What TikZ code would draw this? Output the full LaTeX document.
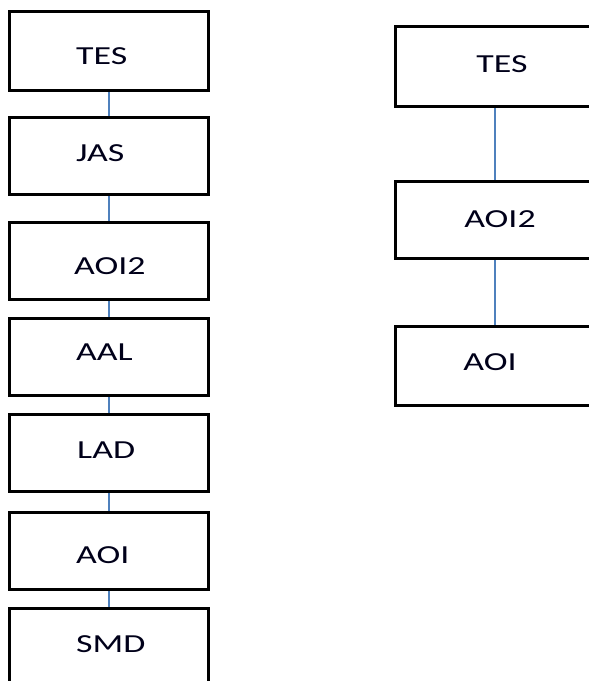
\documentclass[tikz,border=0pt]{standalone}
\usepackage{fontspec}
\usepackage{graphicx}
\setmainfont{Carlito}
\definecolor{linkblue}{RGB}{79,129,189}
\tikzset{
  box/.style={draw=black, line width=3pt, rectangle, inner sep=0pt,
    minimum width=199.5pt},
  link/.style={draw=linkblue, line width=1.4pt},
  lbl/.style={inner sep=0pt, font=\fontsize{26}{30}\selectfont, text=black!90!blue}
}
\newcommand{\wide}[1]{\scalebox{1.38}[1]{#1}}
\begin{document}
\begin{tikzpicture}[x=1pt,y=-1pt]
\useasboundingbox (0,0) rectangle (589,681);
% left chain of stages
\node[box, minimum height=79pt] (l1) at (109,51) {};
\node[box, minimum height=77pt] (l2) at (109,156) {};
\node[box, minimum height=77pt] (l3) at (109,261) {};
\node[box, minimum height=77pt] (l4) at (109,357) {};
\node[box, minimum height=77pt] (l5) at (109,453) {};
\node[box, minimum height=77pt] (l6) at (109,551) {};
\node[box, minimum height=91.5pt] (l7) at (109,654.25) {};
\node[lbl, anchor=base west] (la) at (76,64.3) {\wide{TES}};
\node[lbl, anchor=base west] (lb) at (76,161) {\wide{JAS}};
\node[lbl, anchor=base west] (lc) at (74,274) {\wide{AOI2}};
\node[lbl, anchor=base west] (ld) at (76,360.7) {\wide{AAL}};
\node[lbl, anchor=base west] (le) at (77,458) {\wide{LAD}};
\node[lbl, anchor=base west] (lf) at (76,563) {\wide{AOI}};
\node[lbl, anchor=base west] (lg) at (76,652) {\wide{SMD}};
\foreach \a/\b in {l1/l2, l2/l3, l3/l4, l4/l5, l5/l6, l6/l7}
  \draw[link] (\a.south) -- (\b.north);
% right chain of stages
\node[box, minimum height=80pt] (r1) at (495,66.5) {};
\node[box, minimum height=77pt] (r2) at (495,220) {};
\node[box, minimum height=79pt] (r3) at (495,366) {};
\node[lbl, anchor=base] (ra) at (502,72) {\wide{TES}};
\node[lbl, anchor=base] (rb) at (500,227) {\wide{AOI2}};
\node[lbl, anchor=base] (rc) at (490,370) {\wide{AOI}};
\draw[link] (r1.south) -- (r2.north);
\draw[link] (r2.south) -- (r3.north);
\end{tikzpicture}
\end{document}
